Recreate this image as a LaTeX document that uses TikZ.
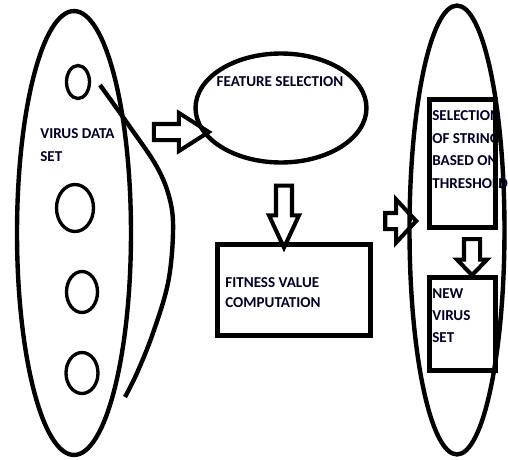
\documentclass[tikz,border=0pt]{standalone}
\usepackage{fontspec}
\setmainfont{Carlito}
\usetikzlibrary{positioning,shapes.geometric,shapes.arrows}
\tikzset{oval/.style={draw,ellipse,line width=2.5pt,inner sep=0pt},
	dot/.style={draw,ellipse,line width=1.9pt,inner sep=0pt},
	box/.style={draw,rectangle,line width=2.5pt,inner sep=0pt},
	lbl/.style={font=\bfseries\fontsize{8.6}{13}\selectfont,align=left,inner sep=0pt,text=black!85!blue},
	fat/.style={draw,single arrow,line width=2.3pt,inner sep=0.12cm,single arrow head indent=0pt}}

\begin{document}
\begin{tikzpicture}[x=0.02cm,y=-0.02cm]
				\useasboundingbox (0,0) rectangle (508,460);

				% input set
				\node[oval,minimum width=2.28cm,minimum height=8.88cm] (data) at (74,233) {};
				\node[dot,minimum width=0.46cm,minimum height=0.66cm] (v1) at (78,82) {};
				\node[dot,minimum width=0.74cm,minimum height=0.94cm] (v2) at (75,208) {};
				\node[dot,minimum width=0.62cm,minimum height=0.82cm] (v3) at (82,292) {};
				\node[dot,minimum width=0.64cm,minimum height=0.82cm] (v4) at (82,373) {};
				\node[lbl,anchor=north west] (datalbl) at (40,128) {VIRUS DATA\\SET};
				\draw[line width=2.5pt] plot[smooth,tension=0.6] coordinates
				{(100,85) (130,127) (157,167) (170,200) (173,233) (168,283) (153,333) (137,373) (125,397)};

				% middle
				\node[oval,minimum width=3.42cm,minimum height=2.18cm] (feat) at (281,108) {};
				\node[lbl] (featlbl) at (280,82) {FEATURE SELECTION};
				\node[box,minimum width=3.06cm,minimum height=1.82cm] (fit) at (294,290) {};
				\node[lbl,anchor=north west,font=\bfseries\fontsize{8.6}{11.3}\selectfont] (fitlbl) at (225,277) {FITNESS VALUE\\COMPUTATION};

				% output set
				\node[oval,minimum width=1.9cm,minimum height=8.98cm] (out) at (457,230) {};
				\node[lbl,anchor=north west] (sellbl) at (432,110) {SELECTION\\OF STRING\\BASED ON\\THRESHOLD};
				\node[box,minimum width=1.32cm,minimum height=2.56cm] (sel) at (462.5,163.5) {};
				\node[lbl,anchor=north west,font=\bfseries\fontsize{8.6}{12.5}\selectfont] (newlbl) at (432,288) {NEW\\VIRUS\\SET};
				\node[box,minimum width=1.32cm,minimum height=1.86cm] (new) at (462.5,324) {};

				% block arrows
				\node[fat,minimum height=1.1cm,single arrow head extend=0.22cm,single arrow tip angle=65] (a1) at (175,132) {};
				\node[fat,shape border rotate=270,minimum height=1.24cm,single arrow head extend=0.14cm,single arrow tip angle=50] (a2) at (284,208) {};
				\node[fat,minimum height=0.62cm,single arrow head extend=0.27cm,single arrow tip angle=94] (a3) at (397,221) {};
				\node[fat,shape border rotate=270,minimum height=0.72cm,single arrow head extend=0.14cm,single arrow tip angle=88] (a4) at (472,253) {};
			\end{tikzpicture}
\end{document}
